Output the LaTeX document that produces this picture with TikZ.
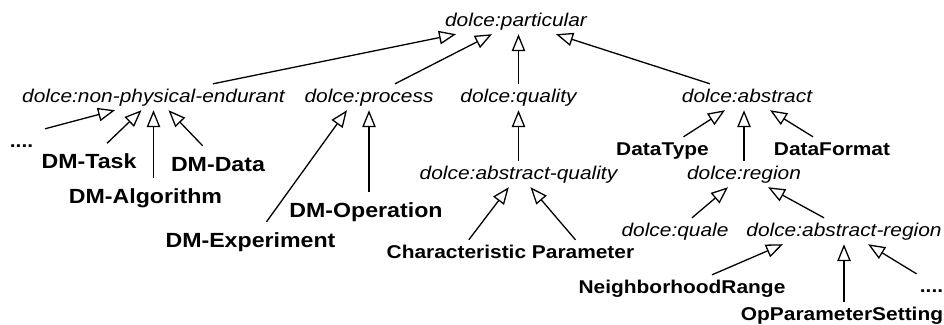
\documentclass[tikz,border=0pt]{standalone}
\usepackage{fontspec}
\setmainfont{Liberation Sans}[FakeStretch=1.13]
\usetikzlibrary{positioning,arrows.meta}
\tikzstyle{cls}=[font=\fontsize{18.5bp}{22bp}\selectfont\itshape, inner xsep=0pt,
                 inner ysep=4bp, text height=14bp, text depth=4bp]
\tikzstyle{leaf}=[cls, font=\fontsize{18.5bp}{22bp}\selectfont\bfseries]
\tikzstyle{dmleaf}=[leaf, font=\fontsize{20.5bp}{24bp}\selectfont\bfseries, inner ysep=11bp]
\tikzstyle{isa}=[-{Triangle[open,length=17bp,width=13.5bp]}, line width=1.3bp]
\begin{document}
\begin{tikzpicture}[x=1bp, y=1bp, on grid]
\useasboundingbox (0,0) rectangle (944,-324);

\node (particular) [cls] at (516,-21) {dolce:particular};
\node (nonphys) [cls, below left=76bp and 362.5bp of particular] {dolce:non-physical-endurant};
\node (process) [cls, right=215.5bp of nonphys] {dolce:process};
\node (quality) [cls, right=149.5bp of process] {dolce:quality};
\node (abstract) [cls, right=228.5bp of quality] {dolce:abstract};
 \draw[isa] ([xshift=59.5bp]nonphys.north) -- ([xshift=-60bp]particular.south);
 \draw[isa] ([xshift=26bp]process.north) -- ([xshift=-24bp]particular.south);
 \draw[isa] (quality.north) -- (quality.north |- particular.south);
 \draw[isa] ([xshift=-37bp]abstract.north) -- ([xshift=40bp]particular.south);

\node (dotsA) [leaf, below left=45bp and 132bp of nonphys] {....};
\node (DMTask) [dmleaf, below left=66.5bp and 64.5bp of nonphys] {DM-Task};
\node (DMAlgo) [dmleaf, below left=101bp and 8bp of nonphys] {DM-Algorithm};
\node (DMData) [dmleaf, below right=69bp and 64.5bp of nonphys] {DM-Data};
 \draw[isa] ([xshift=23.5bp]dotsA.north) -- ([xshift=-38.5bp]nonphys.south);
 \draw[isa] ([xshift=18bp]DMTask.north) -- ([xshift=-12bp]nonphys.south);
 \draw[isa] (DMAlgo.north -| nonphys.south) -- (nonphys.south);
 \draw[isa] ([xshift=-15.3bp]DMData.north) -- ([xshift=15bp]nonphys.south);

\node (DMExp) [dmleaf, below left=145bp and 118.5bp of process] {DM-Experiment};
\node (DMOp) [dmleaf, below left=115bp and 3bp of process] {DM-Operation};
 \draw[isa] ([xshift=16bp]DMExp.north) -- ([xshift=-22bp]process.south);
 \draw[isa] (DMOp.north -| process.south) -- (process.south);

\node (absquality) [cls, below=77bp of quality] {dolce:abstract-quality};
\node (charparam) [leaf, below left=79bp and 8bp of absquality] {Characteristic Parameter};
 \draw[isa] (absquality.north) -- (quality.south);
 \draw[isa] ([xshift=-41.7bp]charparam.north) -- ([xshift=-9.7bp]absquality.south);
 \draw[isa] ([xshift=65bp]charparam.north) -- ([xshift=12bp]absquality.south);

\node (DataType) [leaf, below left=53bp and 84.5bp of abstract] {DataType};
\node (DataFormat) [leaf, below right=53bp and 85bp of abstract] {DataFormat};
\node (region) [cls, below left=77bp and 3bp of abstract] {dolce:region};
 \draw[isa] ([xshift=21bp]DataType.north) -- ([xshift=-22bp]abstract.south);
 \draw[isa] (region.north) -- (region.north |- abstract.south);
 \draw[isa] ([xshift=-19bp]DataFormat.north) -- ([xshift=23bp]abstract.south);

\node (quale) [cls, below left=57bp and 69bp of region] {dolce:quale};
\node (absregion) [cls, below right=57bp and 100bp of region] {dolce:abstract-region};
 \draw[isa] ([xshift=17bp]quale.north) -- ([xshift=-16bp]region.south);
 \draw[isa] ([xshift=-20bp]absregion.north) -- ([xshift=24bp]region.south);

\node (NbRange) [leaf, below left=57bp and 162bp of absregion] {NeighborhoodRange};
\node (OpSetting) [leaf, below left=84bp and 2bp of absregion] {OpParameterSetting};
\node (dotsB) [leaf, below right=56bp and 87.5bp of absregion] {....};
 \draw[isa] ([xshift=30bp]NbRange.north) -- ([xshift=-61bp]absregion.south);
 \draw[isa] (OpSetting.north -| absregion.south) -- (absregion.south);
 \draw[isa] ([xshift=-15bp]dotsB.north) -- ([xshift=24bp]absregion.south);

\end{tikzpicture}
\end{document}
